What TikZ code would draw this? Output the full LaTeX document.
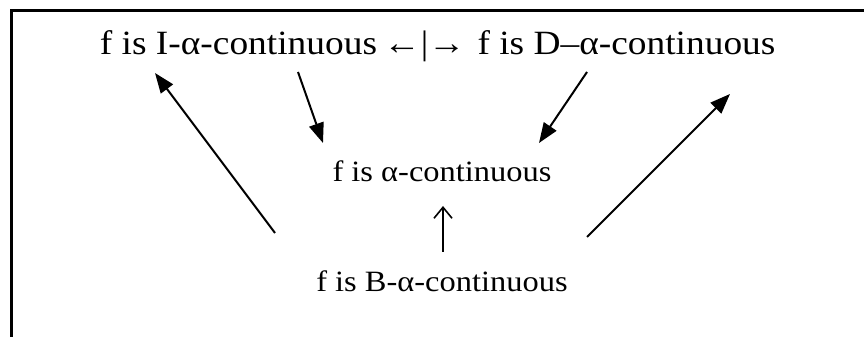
\documentclass[tikz,border=0pt]{standalone}
\usepackage{fontspec}
\setmainfont[FakeStretch=1.1]{Liberation Serif}
\usepackage{tikz}
\usetikzlibrary{arrows.meta,positioning,calc}
\tikzset{
  txt/.style={anchor=base,inner sep=0pt,font=\fontsize{29.5}{32}\selectfont},
  txtbig/.style={txt,font=\fontsize{34}{38}\selectfont},
  impl/.style={-{Triangle[length=20pt,width=15pt]},line width=2pt},
  uparr/.style={-{Straight Barb[length=11pt,width=18pt]},line width=1.6pt},
  frame/.style={line width=3pt,line join=miter},
}

\begin{document}
\begin{tikzpicture}[x=1pt,y=1pt]
  \useasboundingbox (0,0) rectangle (864,337);
  % open frame
  \draw[frame] (11,0) -- (11,326.5) -- (864,326.5);

  \node[txtbig] (inc)  at (238.5,282) {f is I-α-continuous};
  \node[txtbig] (neq)  at (424.5,282) {←|→};
  \node[txtbig] (dec)  at (626.5,282) {f is D–α-continuous};
  \node[txt]    (acnt) at (442,155)   {f is α-continuous};
  \node[txt]    (bcnt) at (442,45)    {f is B-α-continuous};

  \draw[impl] ([shift={(59.5,-17)}]inc.base) -- ([shift={(-119,39)}]acnt.base);
  \draw[impl] ([shift={(-39.5,-17)}]dec.base) -- ([shift={(97,39)}]acnt.base);
  \draw[uparr] ([shift={(1,40)}]bcnt.base) -- ([shift={(1,-24)}]acnt.base);
  \draw[impl] ([shift={(-167,59)}]bcnt.base) -- ([shift={(-83.5,-18)}]inc.base);
  \draw[impl] ([shift={(145,55)}]bcnt.base) -- ([shift={(103.5,-39)}]dec.base);
\end{tikzpicture}
\end{document}
